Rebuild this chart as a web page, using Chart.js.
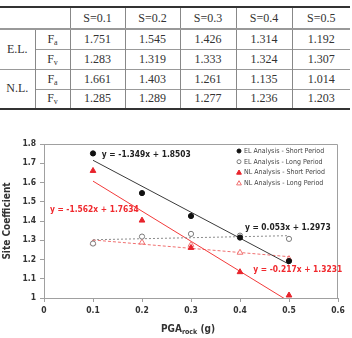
<!DOCTYPE html>
<html>
<head>
<meta charset="utf-8">
<script src="https://cdn.jsdelivr.net/npm/chart.js@4.4.1/dist/chart.umd.min.js"></script>
<style>
    body { margin: 0; background: #fff; width: 352px; height: 338px; overflow: hidden; position: relative; }
    table { position: absolute; left: 0; top: 6px; width: 350px; border-collapse: collapse; table-layout: fixed;
            font-family: 'Liberation Serif', 'DejaVu Serif', serif; font-size: 12px; color: #333;
            border-top: 2px solid #333; border-bottom: 2px solid #333; }
    th, td { padding: 0; text-align: center; font-weight: normal; }
    thead tr { height: 22px; }
    thead th { border-bottom: 2px solid #999; }
    tbody tr { height: 20px; }
    .vl { border-left: 1px solid #888; }
    .sep td { border-top: 1px solid #999; }
    sub { font-size: 8px; vertical-align: -2px; }
    #wrap { position: absolute; left: 0; top: 120px; width: 352px; height: 218px; }
</style>
</head>
<body>
<table id="tbl">
    <colgroup>
        <col style="width:35px"><col style="width:35px"><col style="width:55px"><col style="width:55px">
        <col style="width:56px"><col style="width:56px"><col style="width:58px">
    </colgroup>
    <thead><tr id="head"></tr></thead>
    <tbody id="body"></tbody>
</table>
<div id="wrap"><canvas id="chart" width="352" height="218"></canvas></div>
<script>
    const pga = [0.1, 0.2, 0.3, 0.4, 0.5];
    const sLabels = ['S=0.1', 'S=0.2', 'S=0.3', 'S=0.4', 'S=0.5'];
    const elFa = [1.751, 1.545, 1.426, 1.314, 1.192];
    const elFv = [1.283, 1.319, 1.333, 1.324, 1.307];
    const nlFa = [1.661, 1.403, 1.261, 1.135, 1.014];
    const nlFv = [1.285, 1.289, 1.277, 1.236, 1.203];

    const seriesNames = ['EL Analysis - Short Period', 'EL Analysis - Long Period',
                         'NL Analysis - Short Period', 'NL Analysis - Long Period'];
    // trendline equations shown on the chart
    const trendSlope = [-1.349, 0.053, -1.562, -0.217];
    const trendIntercept = [1.8503, 1.2973, 1.7634, 1.3231];
    const trendText = ['y = -1.349x + 1.8503', 'y = 0.053x + 1.2973', 'y = -1.562x + 1.7634', 'y = -0.217x + 1.3231'];

    const xTicks = [0, 0.1, 0.2, 0.3, 0.4, 0.5, 0.6];
    const xTickLabels = ['0', '0.1', '0.2', '0.3', '0.4', '0.5', '0.6'];
    const yTicks = [1, 1.1, 1.2, 1.3, 1.4, 1.5, 1.6, 1.7, 1.8];
    const yTickLabels = ['1', '1.1', '1.2', '1.3', '1.4', '1.5', '1.6', '1.7', '1.8'];

    // ---- table ----
    const head = document.getElementById('head');
    head.innerHTML = '<th colspan="2"></th>' + sLabels.map(s => `<th class="vl">${s}</th>`).join('');
    const rows = [
        ['E.L.', 'a', elFa], ['E.L.', 'v', elFv],
        ['N.L.', 'a', nlFa], ['N.L.', 'v', nlFv]
    ];
    const body = document.getElementById('body');
    rows.forEach((r, i) => {
        const tr = document.createElement('tr');
        if (i > 0) tr.className = 'sep';
        let html = '';
        if (i % 2 === 0) html += `<td rowspan="2">${r[0]}</td>`;
        html += `<td class="vl">F<sub>${r[1]}</sub></td>`;
        html += r[2].map(v => `<td class="vl">${v.toFixed(3)}</td>`).join('');
        tr.innerHTML = html;
        body.appendChild(tr);
    });

    // ---- chart ----
    const colors = ['#111111', '#7a7a7a', '#e8232b', '#f07070'];
    const lineColors = ['#3a3a3a', '#8a8a8a', '#f23a3a', '#f07070'];
    const dashes = [[], [2, 2], [], [3, 2]];
    const styles = ['circle', 'circle', 'triangle', 'triangle'];
    const filled = [true, false, true, false];
    const values = [elFa, elFv, nlFa, nlFv];

    const pointSets = values.map((v, i) => ({
        label: seriesNames[i],
        data: pga.map((x, j) => ({ x: x, y: v[j] })),
        pointStyle: styles[i],
        pointRadius: styles[i] === 'triangle' ? 3.3 : 2.6,
        pointBorderWidth: 1,
        borderColor: colors[i],
        backgroundColor: filled[i] ? colors[i] : '#ffffff',
        showLine: false,
        order: 0
    }));

    const trendSets = trendSlope.map((m, i) => ({
        label: 'trend ' + i,
        data: [pga[0], pga[pga.length - 1]].map(x => ({ x: x, y: m * x + trendIntercept[i] })),
        showLine: true,
        pointRadius: 0,
        borderColor: lineColors[i],
        borderWidth: 1,
        borderDash: dashes[i],
        order: 1
    }));

    // where each equation sits, in data units
    const eqAnchor = [[0.118, 1.743], [0.41, 1.364], [0.012, 1.457], [0.427, 1.145]];
    const eqColor = ['#222', '#222', '#f0282d', '#f0282d'];

    const fam = "'Liberation Sans Narrow', 'DejaVu Sans Condensed', sans-serif";
    const labelFont = 'bold 8.4px ' + fam;
    const legendFont = '7px ' + fam;

    const extras = {
        id: 'extras',
        afterDatasetsDraw(chart) {
            const { ctx, chartArea: a, scales } = chart;
            ctx.save();
            // top and right frame
            ctx.strokeStyle = '#a0a0a0';
            ctx.lineWidth = 1;
            ctx.beginPath();
            ctx.moveTo(a.left, a.top + 0.5);
            ctx.lineTo(a.right - 0.5, a.top + 0.5);
            ctx.lineTo(a.right - 0.5, a.bottom);
            ctx.stroke();

            // equations
            ctx.font = labelFont;
            ctx.textBaseline = 'middle';
            ctx.textAlign = 'left';
            trendText.forEach((t, i) => {
                ctx.fillStyle = eqColor[i];
                ctx.fillText(t, scales.x.getPixelForValue(eqAnchor[i][0]), scales.y.getPixelForValue(eqAnchor[i][1]));
            });

            // legend
            ctx.font = legendFont;
            const lx = a.right - 99, ly = a.top + 7;
            seriesNames.forEach((n, i) => {
                const y = ly + i * 10.7;
                ctx.fillStyle = filled[i] ? colors[i] : '#fff';
                ctx.strokeStyle = colors[i];
                ctx.lineWidth = 1;
                ctx.beginPath();
                if (styles[i] === 'circle') {
                    ctx.arc(lx, y, 2, 0, Math.PI * 2);
                } else {
                    ctx.moveTo(lx, y - 2.4);
                    ctx.lineTo(lx + 2.4, y + 1.8);
                    ctx.lineTo(lx - 2.4, y + 1.8);
                    ctx.closePath();
                }
                ctx.fill();
                ctx.stroke();
                ctx.fillStyle = '#444';
                ctx.fillText(n, lx + 5, y);
            });

            // x axis title with subscript
            const cx = (a.left + a.right) / 2 - 3;
            const ty = chart.height - 9;
            const bigFont = 'bold 10px ' + fam;
            const smallFont = 'bold 7px ' + fam;
            ctx.font = bigFont;
            const w1 = ctx.measureText('PGA').width, w3 = ctx.measureText(' (g)').width;
            ctx.font = smallFont;
            const w2 = ctx.measureText('rock').width;
            let x = cx - (w1 + w2 + w3) / 2;
            ctx.fillStyle = '#333';
            ctx.font = bigFont;
            ctx.fillText('PGA', x, ty);
            x += w1;
            ctx.font = smallFont;
            ctx.fillText('rock', x, ty + 3);
            x += w2;
            ctx.font = bigFont;
            ctx.fillText(' (g)', x, ty);
            ctx.restore();
        }
    };

    const tickFont = { family: fam, size: 8.5, weight: 'bold' };

    new Chart(document.getElementById('chart'), {
        type: 'scatter',
        data: { datasets: pointSets.concat(trendSets) },
        plugins: [extras],
        options: {
            responsive: false,
            animation: false,
            layout: { padding: { left: 0, right: 14, top: 24, bottom: 0 } },
            plugins: { legend: { display: false }, tooltip: { enabled: false } },
            scales: {
                x: {
                    type: 'linear', min: 0, max: 0.6,
                    afterBuildTicks: s => { s.ticks = xTicks.map(v => ({ value: v })); },
                    afterFit: s => { s.height = 40; },
                    ticks: { callback: (v, i) => xTickLabels[i], color: '#333', font: tickFont, padding: 4, maxRotation: 0 },
                    grid: { drawOnChartArea: false, color: '#a0a0a0', tickLength: 4 },
                    border: { color: '#a0a0a0' }
                },
                y: {
                    type: 'linear', min: 1, max: 1.8,
                    afterBuildTicks: s => { s.ticks = yTicks.map(v => ({ value: v })); },
                    afterFit: s => { s.width = 44; },
                    ticks: { callback: (v, i) => yTickLabels[i], color: '#333', font: tickFont, padding: 4 },
                    grid: { drawOnChartArea: false, color: '#a0a0a0', tickLength: 4 },
                    border: { color: '#a0a0a0' },
                    title: { display: true, text: 'Site Coefficient', color: '#333', padding: { top: 1, bottom: 2 },
                             font: { family: fam, size: 10, weight: 'bold' } }
                }
            }
        }
    });
</script>
</body>
</html>
